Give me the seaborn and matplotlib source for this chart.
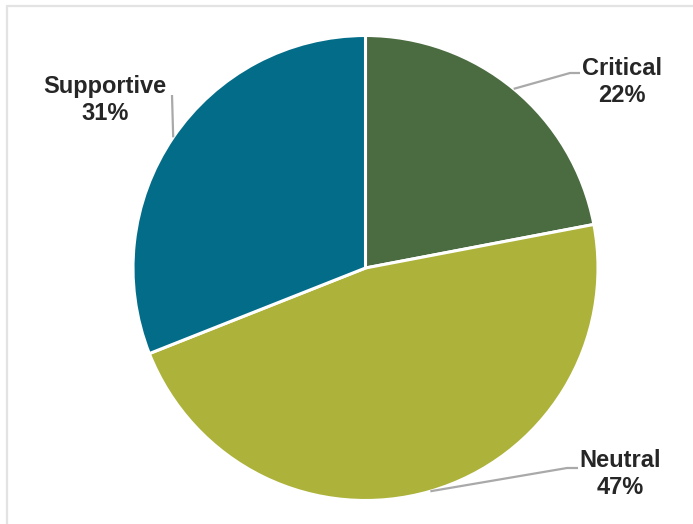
import numpy as np
import matplotlib
matplotlib.use("Agg")
import matplotlib.pyplot as plt
import seaborn as sns
from matplotlib.lines import Line2D

# Share of coverage by tone
categories = ["Critical", "Neutral", "Supportive"]
shares = [22, 47, 31]
label_text = ["Critical\n22%", "Neutral\n47%", "Supportive\n31%"]

sns.set_theme(style="white")
plt.rcParams["font.family"] = ["Liberation Sans", "DejaVu Sans"]

W, H = 693, 524
fig = plt.figure(figsize=(W / 100, H / 100), dpi=100)
ax = fig.add_axes([0, 0, 1, 1])

palette = sns.color_palette(["#4b6b40", "#adb23a", "#036d89"])
cx, cy, r = 365.5, H - 268, 232.5

ax.pie(shares, colors=palette, startangle=90, counterclock=False,
       center=(cx, cy), radius=r, frame=True,
       wedgeprops=dict(edgecolor="white", linewidth=2.2))
ax.set_xlim(0, W)
ax.set_ylim(0, H)
ax.set_aspect("equal")
ax.axis("off")

# leader lines start on the rim at each wedge's middle angle
bounds = np.cumsum([0] + shares) / sum(shares)
mids = (bounds[:-1] + bounds[1:]) / 2 * 2 * np.pi
anchors = [(cx + r * np.sin(a), cy + r * np.cos(a)) for a in mids]

# elbow and label placement (pixel coordinates from top-left)
elbows = {
    "Critical": [(570, 73), (580, 73)],
    "Neutral": [(567, 468), (578, 468)],
    "Supportive": [(172, 95)],
}
text_pos = {
    "Critical": (622, 82),
    "Neutral": (620, 474),
    "Supportive": (105, 100),
}

line_col = "#a9a9a9"
for cat, txt, (ax0, ay0) in zip(categories, label_text, anchors):
    pts = [(ax0, ay0)] + [(x, H - y) for x, y in elbows[cat]]
    xs, ys = zip(*pts)
    ax.plot(xs, ys, color=line_col, lw=1.6, solid_capstyle="butt", zorder=1)
    tx, ty = text_pos[cat]
    ax.text(tx, H - ty, txt, ha="center", va="center", fontsize=17,
            fontweight="bold", color="#262626", linespacing=1.2)

# light frame along the top and left edges
frame_col = "#e3e3e3"
fig.add_artist(Line2D([7 / W, 7 / W], [0, 1 - 6 / H], color=frame_col, lw=1.6,
                      transform=fig.transFigure))
fig.add_artist(Line2D([7 / W, 1], [1 - 6 / H, 1 - 6 / H], color=frame_col, lw=1.6,
                      transform=fig.transFigure))

fig.savefig("out.png", dpi=100, facecolor="white")
